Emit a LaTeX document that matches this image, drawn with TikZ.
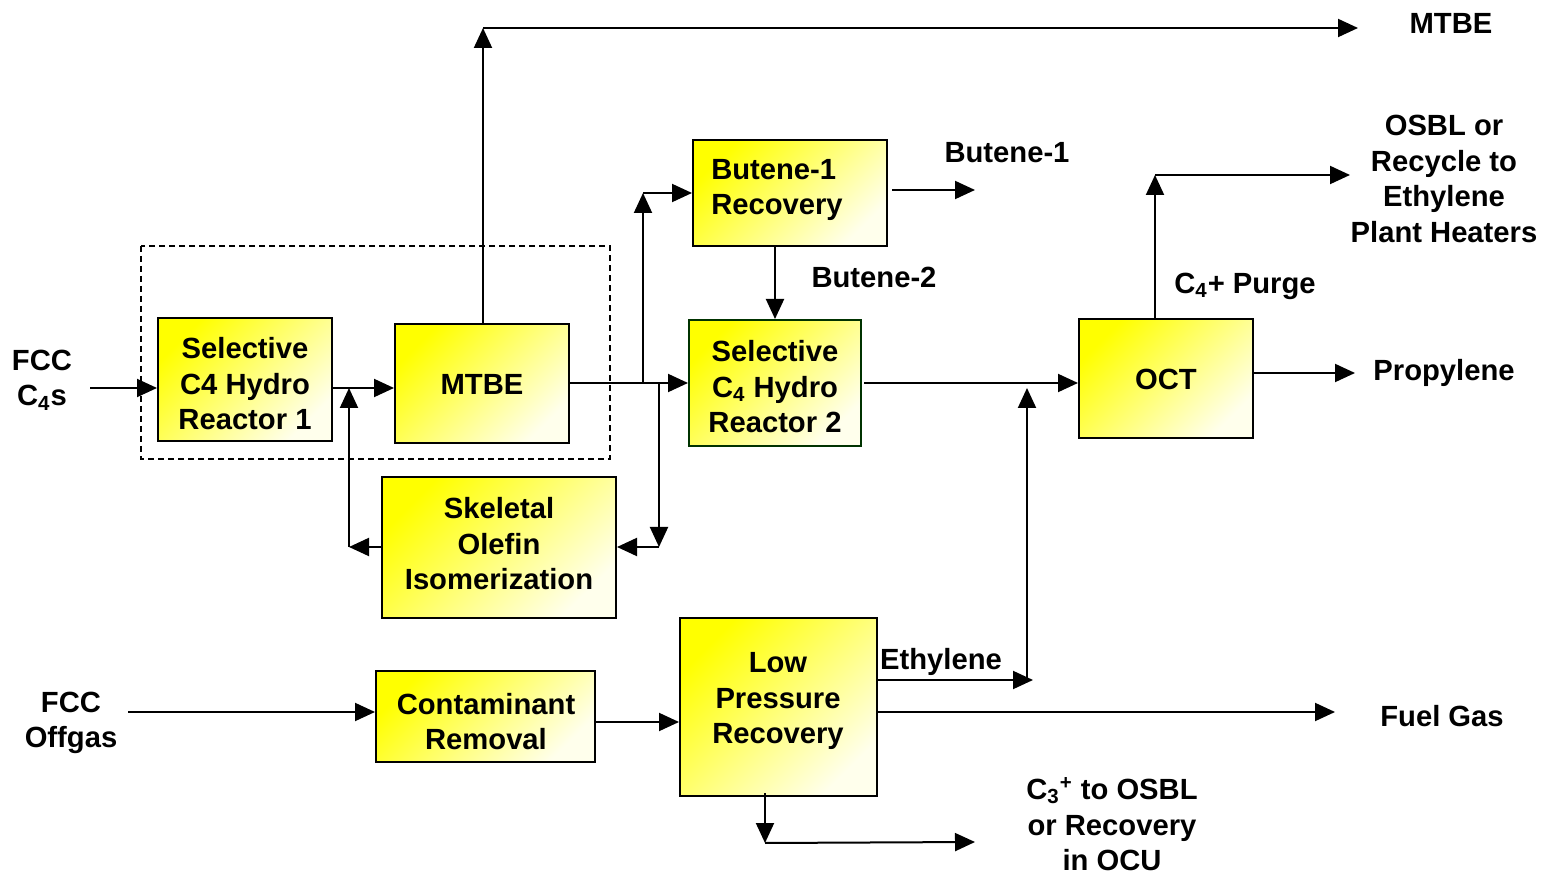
\documentclass[tikz,border=0pt]{standalone}
\usepackage{fontspec}
\setmainfont{Liberation Sans}
\usetikzlibrary{arrows.meta}
\definecolor{boxgreen}{RGB}{0,51,0}
\definecolor{paleyellow}{RGB}{255,255,236}
\begin{document}
\begin{tikzpicture}[x=0.5pt,y=-0.5pt,
  txt/.style={font=\fontsize{14.6}{17.75}\selectfont\bfseries, align=center, inner sep=0pt, yshift=-1.5pt},
  box/.style={draw, line width=1pt, top color=yellow, bottom color=paleyellow, shading angle=45, inner sep=0pt},
  flow/.style={line width=1pt, -{Triangle[length=10pt,width=9pt]}},
  plain/.style={line width=1pt}
]
\useasboundingbox (0,0) rectangle (1548,876);

% dashed frame round the first hydro reactor and MTBE unit
\draw[line width=0.8pt, dash pattern=on 3pt off 2pt] (141,246) rectangle (610,459);

% process units
\node[box, minimum width=87pt, minimum height=61.5pt] (sr1) at (245,379.5) {};
\node[txt] (sr1t) at (245,381) {Selective\\C4 Hydro\\Reactor 1};
\node[box, minimum width=87pt, minimum height=59.5pt] (mtbe) at (482,383.5) {};
\node[txt] (mtbet) at (482,381) {MTBE};
\node[box, minimum width=117pt, minimum height=70.5pt] (skel) at (499,547.5) {};
\node[txt] (skelt) at (499,541) {Skeletal\\Olefin\\Isomerization};
\node[box, minimum width=97pt, minimum height=53pt] (b1) at (790,193) {};
\node[txt, align=left] (b1t) at (777,187) {Butene-1\\Recovery};
\node[box, draw=boxgreen, minimum width=86pt, minimum height=63pt] (sr2) at (775,383) {};
\node[txt] (sr2t) at (775,384) {Selective\\C\textsubscript{4} Hydro\\Reactor 2};
\node[box, minimum width=87pt, minimum height=59.5pt] (oct) at (1166,378.5) {};
\node[txt] (octt) at (1166,376) {OCT};
\node[box, minimum width=109.5pt, minimum height=45.5pt] (cont) at (485.5,716.5) {};
\node[txt] (contt) at (486,718.5) {Contaminant\\Removal};
\node[box, minimum width=98.5pt, minimum height=89pt] (lpr) at (778.5,707) {};
\node[txt] (lprt) at (778,698) {Low\\Pressure\\Recovery};

% stream labels
\node[txt] (lfcc4) at (42,377) {FCC\\C\textsubscript{4}s};
\node[txt] (lmtbe) at (1451,20) {MTBE};
\node[txt] (lbut1) at (1007,150) {Butene-1};
\node[txt] (lbut2) at (874,274) {Butene-2};
\node[txt] (losbl) at (1444,176) {OSBL or\\Recycle to\\Ethylene\\Plant Heaters};
\node[txt] (lpurge) at (1245,283) {C\textsubscript{4}+ Purge};
\node[txt] (lprop) at (1444,370) {Propylene};
\node[txt] (leth) at (941,659) {Ethylene};
\node[txt] (loff) at (71,720) {FCC\\Offgas};
\node[txt] (lfuel) at (1442,713) {Fuel Gas};
\node[txt] (lc3) at (1112,821) {C\textsubscript{3}\textsuperscript{+} to OSBL\\or Recovery\\in OCU};

% junctions and free ends
\coordinate (c4in) at (90,388);
\coordinate (ret) at (349,547);
\coordinate (mtbetop) at (483,28);
\coordinate (mtbeout) at (1358,28);
\coordinate (up) at (643,193);
\coordinate (dn) at (659,547);
\coordinate (b1out) at (975,190);
\coordinate (eth) at (1033,680);
\coordinate (ethup) at (1027,680);
\coordinate (ethtip) at (1027,388);
\coordinate (purge) at (1155,175);
\coordinate (purgeout) at (1350,175);
\coordinate (prop) at (1355,373);
\coordinate (offin) at (128,712);
\coordinate (cl) at (0,722);
\coordinate (fuel) at (1335,712);
\coordinate (c3) at (765,843);
\coordinate (c3out) at (975,842);

% C4 train
\draw[flow] (c4in) -- (c4in -| sr1.west);
\draw[flow] (sr1.east |- c4in) -- (mtbe.west |- c4in);
\draw[flow] (skel.west |- ret) -- (ret);
\draw[flow] (ret) -- (ret |- c4in);
\draw[flow] (mtbe.north -| mtbetop) -- (mtbetop);
\draw[flow] (mtbetop) -- (mtbeout);
\draw[flow] (mtbe.east |- sr2.west) -- (sr2.west);
\draw[flow] (up |- sr2.west) -- (up);
\draw[flow] (up) -- (b1.west |- up);
\draw[flow] (dn |- sr2.west) -- (dn);
\draw[flow] (dn) -- (skel.east |- dn);
\draw[flow] ([xshift=2pt]b1.east |- b1out) -- (b1out);
\draw[flow] (sr2.north |- b1.south) -- (sr2.north);
\draw[flow] ([xshift=1pt]sr2.east) -- (sr2.east -| oct.west);

% OCT products
\draw[flow] (oct.north -| purge) -- (purge);
\draw[flow] (purge) -- (purgeout);
\draw[flow] (oct.east |- prop) -- (prop);

% offgas train
\draw[flow] (offin) -- (offin -| cont.west);
\draw[flow] (cont.east |- cl) -- (lpr.west |- cl);
\draw[flow] (lpr.east |- eth) -- (eth);
\draw[flow] (ethup) -- (ethtip);
\draw[flow] (lpr.east |- fuel) -- (fuel);
\draw[flow] ([yshift=2pt]lpr.south -| c3) -- (c3);
\draw[flow] (c3) -- (c3out);
\end{tikzpicture}
\end{document}
